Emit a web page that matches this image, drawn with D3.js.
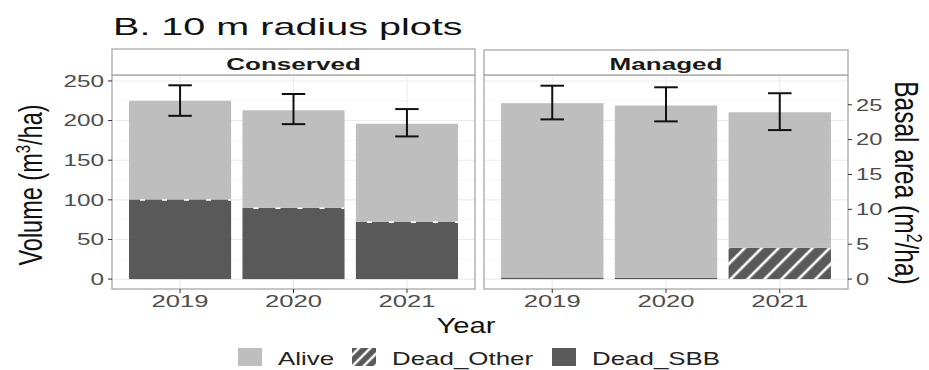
<!DOCTYPE html>
<html>
<head>
<meta charset="utf-8">
<script src="https://cdn.jsdelivr.net/npm/d3@7"></script>
<style>
  body { margin: 0; background: #fff; }
  text { font-family: "Liberation Sans", Arial, sans-serif; }
</style>
</head>
<body>
<div id="chart"></div>
<script>
// Data (volume, m3/ha)
var years = ["2019", "2020", "2021"];
var sites = ["Conserved", "Managed"];
var keys = ["Dead_SBB", "Dead_Other", "Alive"];
var sbbConserved = [100.5, 90, 72.5];
var otherConserved = [0, 0, 0];
var aliveConserved = [124.5, 123, 123.5];
var sbbManaged = [2, 1.5, 0];
var otherManaged = [0, 0, 39.5];
var aliveManaged = [220, 217.5, 171];
var errLowConserved = [206, 195.5, 180];
var errHighConserved = [244.5, 233.5, 214.5];
var errLowManaged = [201.5, 199, 188];
var errHighManaged = [244, 242, 234.5];
var volumeTicks = [0, 50, 100, 150, 200, 250];
var basalTicks = [0, 5, 10, 15, 20, 25];
var basalFactor = 8.8; // volume per unit of basal area on the second axis
var legendLabels = ["Alive", "Dead_Other", "Dead_SBB"];

// Layout
var W = 929, H = 370;
var plotTop = 75, plotBottom = 289;
var panels = [
	{ site: "Conserved", x0: 112, x1: 475, stripTop: 49 },
	{ site: "Managed", x0: 484, x1: 848, stripTop: 50 }
];
var colors = { Alive: "#bebebe", Dead_SBB: "#595959" };
var tickColor = "#4d4d4d";

var rows = {
	Conserved: years.map(function(y, i) {
		return { year: y, Dead_SBB: sbbConserved[i], Dead_Other: otherConserved[i], Alive: aliveConserved[i], lo: errLowConserved[i], hi: errHighConserved[i] };
	}),
	Managed: years.map(function(y, i) {
		return { year: y, Dead_SBB: sbbManaged[i], Dead_Other: otherManaged[i], Alive: aliveManaged[i], lo: errLowManaged[i], hi: errHighManaged[i] };
	})
};

var y = d3.scaleLinear().domain([-12.5, 257.5]).range([plotBottom, plotTop]);
var stack = d3.stack().keys(keys);

var svg = d3.select("#chart").append("svg")
	.attr("width", W)
	.attr("height", H);

// Hatch patterns for Dead_Other
var defs = svg.append("defs");
function hatch(id, gap, sw) {
	var p = defs.append("pattern")
		.attr("id", id)
		.attr("patternUnits", "userSpaceOnUse")
		.attr("width", gap)
		.attr("height", gap)
		.attr("patternTransform", "rotate(45)");
	p.append("rect").attr("width", gap).attr("height", gap).attr("fill", "#595959");
	p.append("line")
		.attr("x1", gap / 2).attr("x2", gap / 2)
		.attr("y1", 0).attr("y2", gap)
		.attr("stroke", "#fff")
		.attr("stroke-width", sw);
}
hatch("hatchBar", 12, 2.6);
hatch("hatchKey", 8, 2.4);

// Text helper: the picture's lettering is stretched sideways
function txt(parent, s, x, yy, size, sx, anchor) {
	return parent.append("text")
		.attr("transform", "translate(" + x + "," + yy + ") scale(" + sx + ",1)")
		.attr("text-anchor", anchor || "start")
		.attr("font-size", size)
		.text(s);
}

// Title
txt(svg, "B. 10 m radius plots", 113, 35, 23, 1.72).attr("fill", "#111");

panels.forEach(function(p, pi) {
	var g = svg.append("g");
	var x = d3.scaleBand().domain(years).range([p.x0, p.x1])
		.paddingInner(0.1).paddingOuter(0.15);
	var bw = x.bandwidth();

	// background + grid
	g.append("rect")
		.attr("x", p.x0).attr("y", plotTop)
		.attr("width", p.x1 - p.x0).attr("height", plotBottom - plotTop)
		.attr("fill", "#fff");
	g.selectAll("minor")
		.data(volumeTicks.map(function(d) { return d + 25; }).filter(function(d) { return d < 257.5; }))
		.enter().append("line")
		.attr("x1", p.x0).attr("x2", p.x1)
		.attr("y1", function(d) { return y(d); })
		.attr("y2", function(d) { return y(d); })
		.attr("stroke", "#f4f4f4")
		.attr("stroke-width", 0.8);
	g.selectAll("major")
		.data(volumeTicks)
		.enter().append("line")
		.attr("x1", p.x0).attr("x2", p.x1)
		.attr("y1", function(d) { return y(d); })
		.attr("y2", function(d) { return y(d); })
		.attr("stroke", "#ebebeb")
		.attr("stroke-width", 1.1);
	g.selectAll("vgrid")
		.data(years)
		.enter().append("line")
		.attr("x1", function(d) { return x(d) + bw / 2; })
		.attr("x2", function(d) { return x(d) + bw / 2; })
		.attr("y1", plotTop).attr("y2", plotBottom)
		.attr("stroke", "#ebebeb")
		.attr("stroke-width", 1.1);

	// stacked bars
	var series = stack(rows[p.site]);
	series.forEach(function(s) {
		g.selectAll("bar_" + s.key)
			.data(s)
			.enter().append("rect")
			.attr("x", function(d) { return x(d.data.year); })
			.attr("width", bw)
			.attr("y", function(d) { return y(d[1]); })
			.attr("height", function(d) { return y(d[0]) - y(d[1]); })
			.attr("fill", s.key == "Dead_Other" ? "url(#hatchBar)" : colors[s.key]);
	});
	// zero-height Dead_Other left a dashed white trace on the SBB tops
	var other = series[1];
	g.selectAll("trace")
		.data(other.filter(function(d) { return d[1] - d[0] == 0 && d[0] > 5; }))
		.enter().append("line")
		.attr("x1", function(d) { return x(d.data.year); })
		.attr("x2", function(d) { return x(d.data.year) + bw; })
		.attr("y1", function(d) { return y(d[0]) + 0.5; })
		.attr("y2", function(d) { return y(d[0]) + 0.5; })
		.attr("stroke", "#fff")
		.attr("stroke-width", 1.6)
		.attr("stroke-dasharray", "5,17")
		.attr("stroke-dashoffset", -11);

	// error bars
	var half = bw * 0.115;
	rows[p.site].forEach(function(d) {
		var cx = x(d.year) + bw / 2;
		var e = g.append("g").attr("stroke", "#111").attr("stroke-width", 2);
		e.append("line").attr("x1", cx).attr("x2", cx).attr("y1", y(d.lo)).attr("y2", y(d.hi));
		e.append("line").attr("x1", cx - half).attr("x2", cx + half).attr("y1", y(d.lo)).attr("y2", y(d.lo));
		e.append("line").attr("x1", cx - half).attr("x2", cx + half).attr("y1", y(d.hi)).attr("y2", y(d.hi));
	});

	// panel border + strip
	g.append("rect")
		.attr("x", p.x0).attr("y", plotTop)
		.attr("width", p.x1 - p.x0).attr("height", plotBottom - plotTop)
		.attr("fill", "none")
		.attr("stroke", "#a8a8a8")
		.attr("stroke-width", 1.3);
	g.append("rect")
		.attr("x", p.x0).attr("y", p.stripTop)
		.attr("width", p.x1 - p.x0).attr("height", plotTop - p.stripTop)
		.attr("fill", "#fff")
		.attr("stroke", "#a8a8a8")
		.attr("stroke-width", 1.3);
	txt(g, p.site, (p.x0 + p.x1) / 2, 69.5, 16, 1.63, "middle")
		.attr("font-weight", "bold")
		.attr("fill", "#1a1a1a");

	// x ticks
	years.forEach(function(d) {
		var cx = x(d) + bw / 2;
		g.append("line")
			.attr("x1", cx).attr("x2", cx)
			.attr("y1", plotBottom).attr("y2", plotBottom + 4)
			.attr("stroke", "#333");
		txt(g, d, cx, 307, 16, 1.6, "middle").attr("fill", tickColor);
	});

	// left axis on first panel, basal area axis on the second
	if (pi == 0) {
		volumeTicks.forEach(function(d) {
			g.append("line")
				.attr("x1", p.x0 - 4).attr("x2", p.x0)
				.attr("y1", y(d)).attr("y2", y(d))
				.attr("stroke", "#333");
			txt(g, d, p.x0 - 8, y(d) + 5.8, 16, 1.52, "end").attr("fill", tickColor);
		});
	} else {
		basalTicks.forEach(function(d) {
			var yy = y(d * basalFactor);
			g.append("line")
				.attr("x1", p.x1).attr("x2", p.x1 + 4)
				.attr("y1", yy).attr("y2", yy)
				.attr("stroke", "#333");
			txt(g, d, p.x1 + 8, yy + 5.8, 16, 1.48, "start").attr("fill", tickColor);
		});
	}
});

// Axis titles
var yl = svg.append("text")
	.attr("transform", "translate(42,185) scale(1.38,1) rotate(-90)")
	.attr("text-anchor", "middle")
	.attr("font-size", 23.5)
	.attr("fill", "#111");
yl.append("tspan").text("Volume (m");
yl.append("tspan").attr("font-size", 15).attr("dy", -9).text("3");
yl.append("tspan").attr("dy", 9).text("/ha)");

var yr = svg.append("text")
	.attr("transform", "translate(895,183) scale(1.38,1) rotate(90)")
	.attr("text-anchor", "middle")
	.attr("font-size", 24.5)
	.attr("fill", "#111");
yr.append("tspan").text("Basal area (m");
yr.append("tspan").attr("font-size", 16).attr("dy", -9).text("2");
yr.append("tspan").attr("dy", 9).text("/ha)");

txt(svg, "Year", 466, 333, 22, 1.33, "middle").attr("fill", "#111");

// Legend
var legendX = [238, 352, 552];
var legendFill = ["#bebebe", "url(#hatchKey)", "#595959"];
legendLabels.forEach(function(l, i) {
	svg.append("rect")
		.attr("x", legendX[i]).attr("y", 348)
		.attr("width", 24).attr("height", 18)
		.attr("fill", legendFill[i]);
	txt(svg, l, legendX[i] + 40, 365, 18, 1.44, "start").attr("fill", "#222");
});
</script>
</body>
</html>
